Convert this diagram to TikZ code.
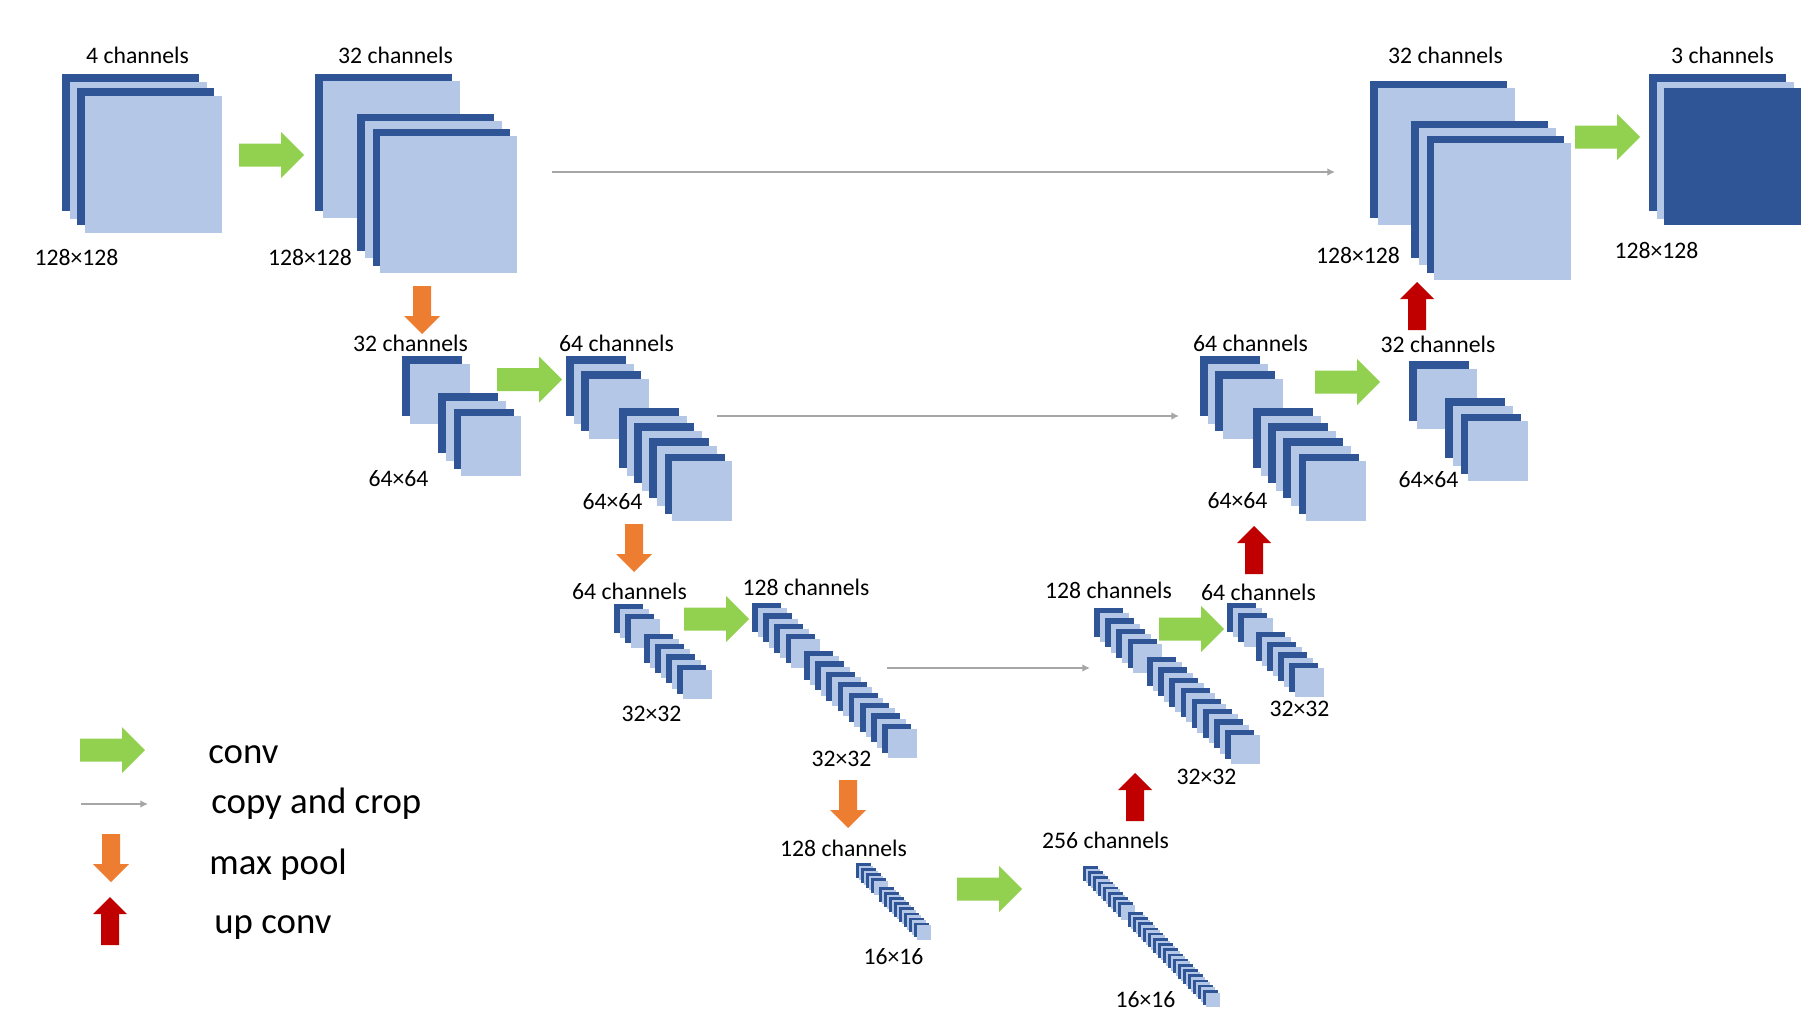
\documentclass[tikz,border=0pt]{standalone}
\usepackage{fontspec}
\setmainfont{Carlito}
\usetikzlibrary{arrows.meta}
\definecolor{fmdark}{HTML}{2F5597}
\definecolor{fmlight}{HTML}{B4C7E7}
\definecolor{convgreen}{HTML}{92D050}
\definecolor{poolorange}{HTML}{ED7D31}
\definecolor{upred}{HTML}{C00000}
\definecolor{copygray}{HTML}{A6A6A6}
\begin{document}
\begin{tikzpicture}[x=0.5pt,y=-0.5pt,
        lbl/.style={anchor=base,inner sep=0pt,font=\fontsize{11.85pt}{14pt}\selectfont},
        leg/.style={anchor=base west,inner sep=0pt,font=\fontsize{18.4pt}{22pt}\selectfont},
        copycrop/.style={draw=copygray,line width=1pt,-{Latex[length=3.8pt,width=3.8pt]}},
        pics/fmaps/.style n args={7}{code={
            \foreach \i in {1,...,#4}{
                \fill[fmdark] ({(2*\i-2)*#2},{(2*\i-2)*#3}) rectangle ++(#1,#1);
                \fill[fmlight] ({(2*\i-1)*#2},{(2*\i-1)*#3}) rectangle ++(#1,#1);
            }
            \foreach \i in {1,...,#5}{
                \fill[fmdark] ({#6+(2*\i-2)*#2},{#7+(2*\i-2)*#3}) rectangle ++(#1,#1);
                \fill[fmlight] ({#6+(2*\i-1)*#2},{#7+(2*\i-1)*#3}) rectangle ++(#1,#1);
            }
        }},
        pics/conv/.style={code={
            \fill[convgreen] (0,-11.5) -- (42,-11.5) -- (42,-23) -- (65,0) -- (42,23) -- (42,11.5) -- (0,11.5) -- cycle;
        }},
        pics/pool/.style={code={
            \fill[poolorange] (-9,0) -- (9,0) -- (9,30) -- (18,30) -- (0,48) -- (-18,30) -- (-9,30) -- cycle;
        }},
        pics/upconv/.style={code={
            \fill[upred] (-9,0) -- (9,0) -- (9,-31) -- (17,-31) -- (0,-48) -- (-17,-31) -- (-9,-31) -- cycle;
        }}]
        \useasboundingbox (0,0) rectangle (1816,1012);
        % level 1
        \pic at (62,74) {fmaps={137}{8}{7.5}{1}{1}{15}{14}};
        \pic at (315,74) {fmaps={137}{7.8}{7.4}{1}{2}{42}{40}};
        \pic at (1370,81) {fmaps={137}{7.8}{7.4}{1}{2}{41}{40}};
        \fill[fmdark] (1649,74) rectangle ++(137,137);
        \fill[fmlight] (1657,82) rectangle ++(137,137);
        \fill[fmdark] (1664,88) rectangle ++(137,137);
        \node[lbl] (c4) at (137.5,63) {4 channels};
        \node[lbl] (c32a) at (395.5,63) {32 channels};
        \node[lbl] (c32b) at (1445.5,63) {32 channels};
        \node[lbl] (c3) at (1722.5,63) {3 channels};
        \node[lbl] (s128a) at (76.5,265) {128×128};
        \node[lbl] (s128b) at (310,265) {128×128};
        \node[lbl] (s128c) at (1358,263) {128×128};
        \node[lbl] (s128d) at (1656.5,258) {128×128};
        % level 2
        \pic at (402,356) {fmaps={60}{7.8}{7.8}{1}{2}{36}{37}};
        \pic at (566,356) {fmaps={60}{7.6}{7.6}{2}{4}{53}{52}};
        \pic at (1200,356) {fmaps={60}{7.6}{7.6}{2}{4}{53}{52}};
        \pic at (1409,361) {fmaps={60}{7.8}{7.8}{1}{2}{36}{37}};
        \node[lbl] (c32c) at (410.5,351) {32 channels};
        \node[lbl] (c64a) at (616.5,351) {64 channels};
        \node[lbl] (c64b) at (1250.5,351) {64 channels};
        \node[lbl] (c32d) at (1438,352) {32 channels};
        \node[lbl] (s64a) at (398.5,486) {64×64};
        \node[lbl] (s64b) at (612.5,509) {64×64};
        \node[lbl] (s64c) at (1237.5,508) {64×64};
        \node[lbl] (s64d) at (1428.5,487) {64×64};
        % level 3
        \pic at (614,604) {fmaps={29}{5.5}{5.1}{2}{4}{30}{30}};
        \pic at (752,603) {fmaps={29}{5.6}{5.2}{4}{8}{52}{48}};
        \pic at (1094,608) {fmaps={29}{5.6}{5.2}{4}{8}{53}{49}};
        \pic at (1227,603) {fmaps={29}{5.5}{5.1}{2}{4}{29}{29}};
        \node[lbl] (c64c) at (629.5,599) {64 channels};
        \node[lbl] (c128a) at (806,595) {128 channels};
        \node[lbl] (c128b) at (1108.5,598) {128 channels};
        \node[lbl] (c64d) at (1258.5,600) {64 channels};
        \node[lbl] (s32a) at (651.5,721) {32×32};
        \node[lbl] (s32b) at (841.5,766) {32×32};
        \node[lbl] (s32c) at (1206.5,784) {32×32};
        \node[lbl] (s32d) at (1299.5,716) {32×32};
        % level 4
        \pic at (856,863) {fmaps={14.5}{2.5}{2.55}{4}{8}{23}{24}};
        \pic at (1083,866) {fmaps={14.5}{2.5}{2.6}{8}{16}{45}{46}};
        \node[lbl] (c128c) at (843.5,856) {128 channels};
        \node[lbl] (c256) at (1105.5,848) {256 channels};
        \node[lbl] (s16a) at (893.5,964) {16×16};
        \node[lbl] (s16b) at (1145.5,1007) {16×16};
        % arrows
        \foreach \x/\y in {239/155,1575/137,497/379.5,1315/382,684/619,1159/629,957/889,80/750}
        \pic at (\x,\y) {conv};
        \foreach \x/\y in {422/286,634/524,848/780,111/834}
        \pic at (\x,\y) {pool};
        \foreach \x/\y in {1135/821,1254/574,1417/330,110/945}
        \pic at (\x,\y) {upconv};
        \coordinate (cc1a) at (552,172);
        \coordinate (cc1b) at (1335,172);
        \coordinate (cc2a) at (717,416);
        \coordinate (cc2b) at (1179,416);
        \coordinate (cc3a) at (887,668);
        \coordinate (cc3b) at (1090,668);
        \coordinate (cc4a) at (81,804);
        \coordinate (cc4b) at (148,804);
        \draw[copycrop] (cc1a) -- (cc1b);
        \draw[copycrop] (cc2a) -- (cc2b);
        \draw[copycrop] (cc3a) -- (cc3b);
        \draw[copycrop] (cc4a) -- (cc4b);
        % legend
        \node[leg] (lconv) at (208,763) {conv};
        \node[leg] (lcopy) at (211,813) {copy and crop};
        \node[leg] (lpool) at (209,874) {max pool};
        \node[leg] (lup) at (214,933) {up conv};
    \end{tikzpicture}
\end{document}
